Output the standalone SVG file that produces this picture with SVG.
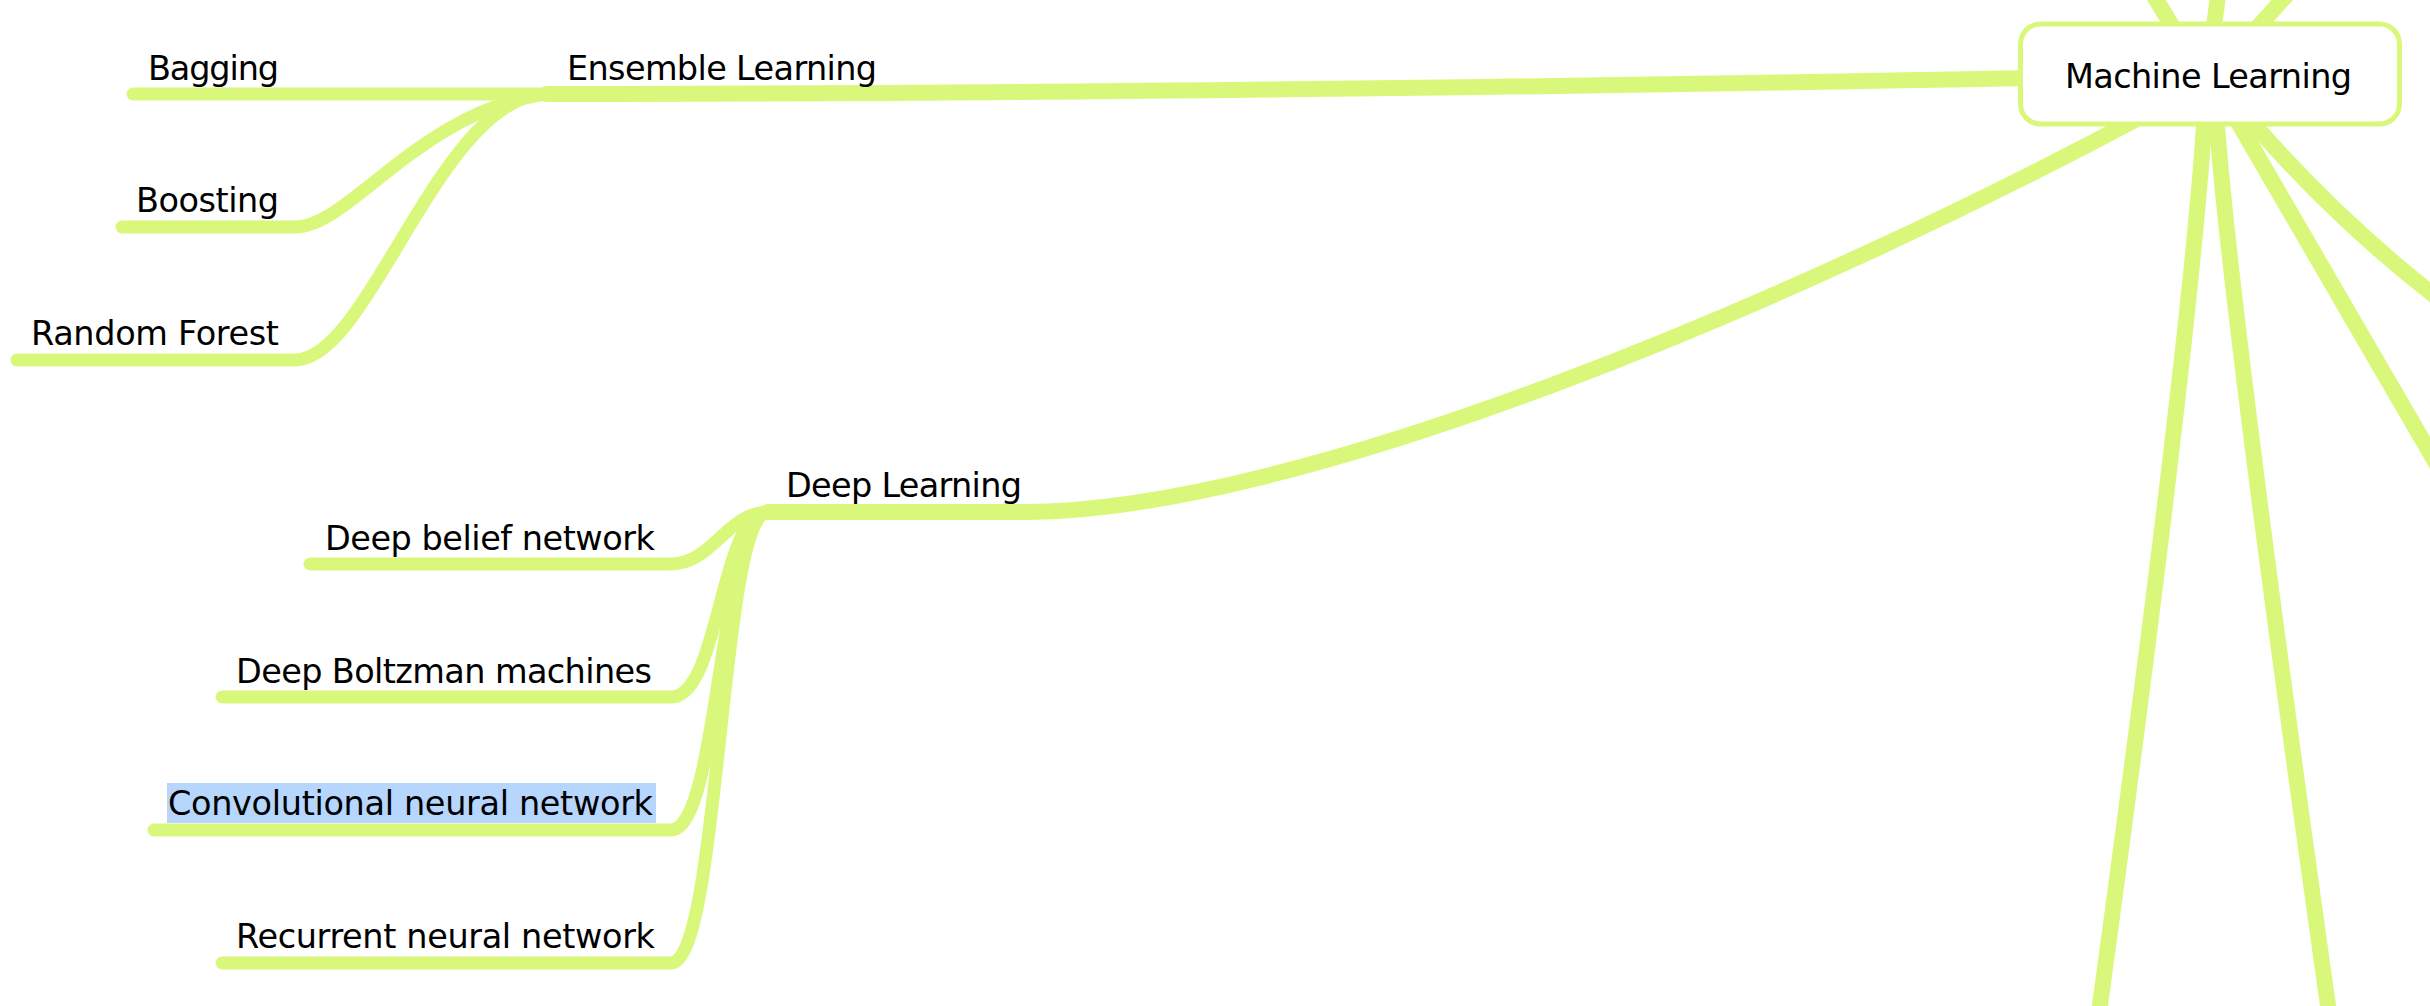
<svg xmlns="http://www.w3.org/2000/svg" width="2430" height="1006" viewBox="0 0 2430 1006">
<style>
.c{fill:none;stroke:#d9f87b;stroke-linecap:round;stroke-linejoin:round}
.m{stroke-width:16}
.k{stroke-width:13}
.t{font-family:"DejaVu Sans","Liberation Sans",sans-serif;font-size:33.5px;fill:#000}
</style>
<rect x="0" y="0" width="2430" height="1006" fill="#fff"/>
<g id="connectors">
  <path class="c m" d="M2190 55 L2135 -35"/>
  <path class="c m" d="M2210 55 L2223 -40"/>
  <path class="c m" d="M2230 58 L2320 -42"/>
  <path class="c m" d="M2205 110 Q2192 331 2098 1020"/>
  <path class="c m" d="M2216 110 Q2227 287 2330 1020"/>
  <path class="c m" d="M2228 105 L2440 470"/>
  <path class="c m" d="M2240 108 Q2330 215 2440 300"/>
  <path class="c m" d="M547 94 C1000 94 1500 88 2030 78"/>
  <path class="c m" d="M768 512 L1023 512 C1300 512 1800 300 2150 112"/>
  <path class="c k" d="M133 94 L547 94"/>
  <path class="c k" d="M122 227 L295 227 C350 227 420 110 547 94"/>
  <path class="c k" d="M17 360 L295 360 C370 360 440 94 547 94"/>
  <path class="c k" d="M310 564 L671 564 C712 564 728 512 768 512"/>
  <path class="c k" d="M222 697 L671 697 C720 697 720 512 768 512"/>
  <path class="c k" d="M154 830 L671 830 C720 830 720 512 768 512"/>
  <path class="c k" d="M222 963 L671 963 C720 963 720 512 768 512"/>
</g>
<g id="machine-learning">
  <rect x="2020.5" y="24" width="379" height="100" rx="20" ry="20" fill="#fff" stroke="#d9f87b" stroke-width="5"/>
  <text class="t" x="2065" y="88" textLength="287">Machine Learning</text>
</g>
<g id="ensemble-learning">
  <text class="t" x="567" y="80" textLength="310">Ensemble Learning</text>
</g>
<g id="bagging">
  <text class="t" x="148" y="80" textLength="131">Bagging</text>
</g>
<g id="boosting">
  <text class="t" x="136" y="212" textLength="143">Boosting</text>
</g>
<g id="random-forest">
  <text class="t" x="31" y="345" textLength="248">Random Forest</text>
</g>
<g id="deep-learning">
  <text class="t" x="786" y="497" textLength="236">Deep Learning</text>
</g>
<g id="deep-belief-network">
  <text class="t" x="325" y="550" textLength="330">Deep belief network</text>
</g>
<g id="deep-boltzman-machines">
  <text class="t" x="236" y="683" textLength="416">Deep Boltzman machines</text>
</g>
<g id="convolutional-neural-network">
  <rect x="167" y="783" width="489" height="40" fill="#b6d6fd"/>
  <text class="t" x="168" y="815" textLength="485">Convolutional neural network</text>
</g>
<g id="recurrent-neural-network">
  <text class="t" x="236" y="948" textLength="419">Recurrent neural network</text>
</g>
</svg>
